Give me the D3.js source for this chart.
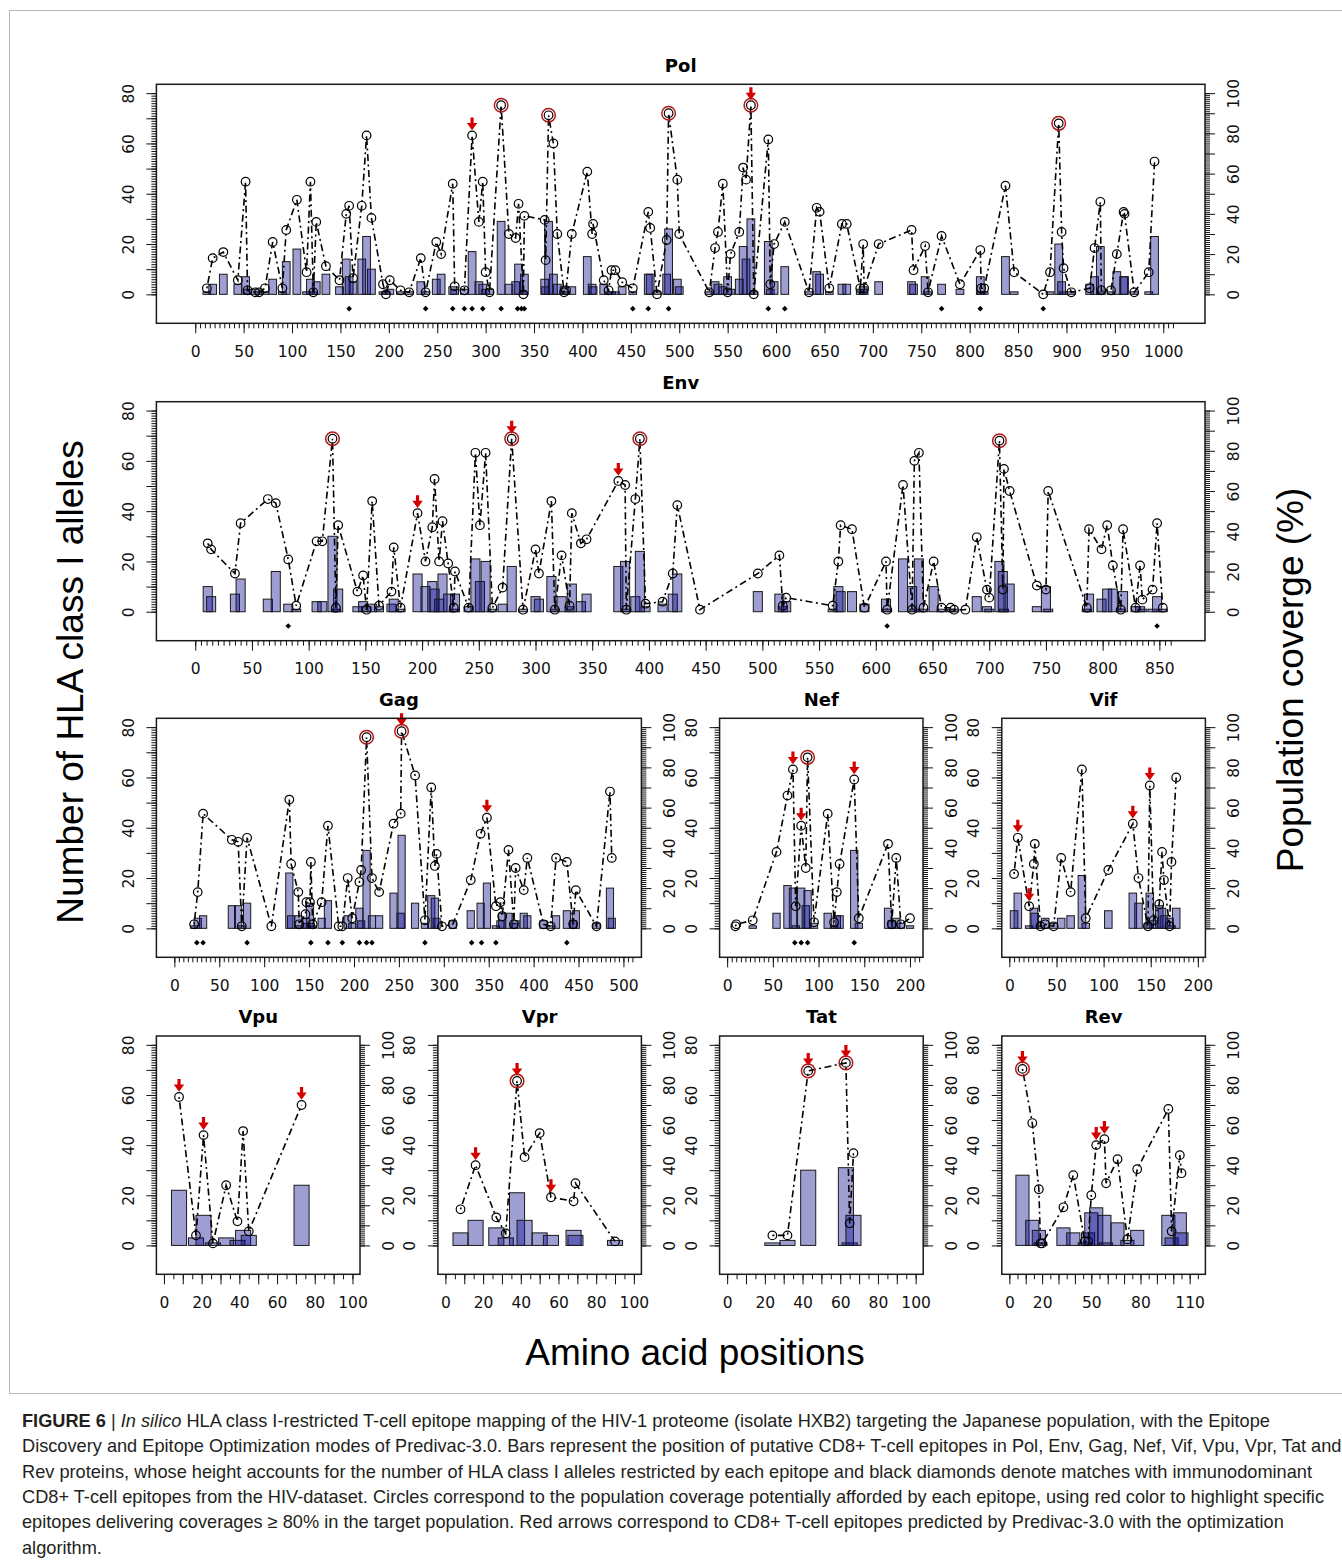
<!DOCTYPE html>
<html lang="en">
<head>
<meta charset="utf-8">
<title>HIV-1 epitope mapping</title>
<style>
  body { margin: 0; background: #fff; }
  svg { display: block; }
</style>
</head>
<body>
<svg width="1342" height="1562"></svg>
<script src="https://d3js.org/d3.v7.min.js"></script>
<script>
// ---- data: epitope centre position, number of HLA alleles, population coverage (%) ----
var polPos = [12,18,29,44,52,54,62,66,72,80, 90,94,105,115,119,122,125,135,149,156,
  159,163,172,177,182,194,197,201,212,221, 233,238,249,254,266,268,278,286,293,297,
  300,304,316,324,331,334,339,340,361,362, 365,370,374,381,383,389,405,410,411,422,
  427,430,434,441,452,468,470,477,487,489, 498,500,531,537,540,545,550,553,562,566,
  569,574,577,592,594,598,609,634,642,645, 655,668,673,687,690,691,706,740,742,754,
  757,771,790,811,812,815,837,846,876,883, 892,895,897,905,924,929,935,936,946,952,
  959,960,970,985,991];
var polAlleles = [1,4,8,4,7,2,2,1,1,6, 1,13,18,1,6,1,5,8,3,14,
  7,5,14,23,10,1,1,2,1,1, 5,1,6,8,3,2,2,17,5,4,
  2,2,29,4,5,12,1,8,6,3, 29,8,4,3,1,3,15,4,3,4,
  1,1,1,3,1,8,8,1,8,26, 6,3,1,5,4,3,7,2,6,19,
  14,30,1,21,2,5,11,1,9,8, 1,4,4,2,3,2,5,5,4,7,
  1,4,2,7,1,1,15,1,0,1, 20,5,1,1,4,7,19,1,1,9,
  7,7,1,1,23];
var polCoverage = [3,18,21,7,56,2,1,1,3,26, 3,32,47,11,56,1,36,14,7,40,
  44,8,44,79,38,5,0,7,2,1, 18,1,26,20,55,4,2,79,36,56,
  11,1,94,30,28,45,0,39,37,17, 89,75,30,1,2,30,61,30,35,7,
  2,12,12,6,3,41,33,0,27,90, 57,30,1,23,31,55,1,20,31,63,
  57,94,0,77,5,25,36,1,43,41, 3,35,35,3,25,3,25,32,12,24,
  1,29,5,22,3,3,54,11,0,11, 85,31,13,1,3,23,46,2,2,20,
  41,40,1,11,66];
var polDiamonds = [159,238,266,278,286,297,316,333,337,340,452,468,489,592,609,771,811,876];
var polArrows = [286,574];

var envPos = [11,14,35,40,64,71,82,89,107,112, 121,124,126,143,148,151,156,162,173,175,
  181,196,203,209,211,215,218,223,228,229, 241,247,251,256,262,271,279,289,300,303,
  314,317,323,330,332,340,345,373,379,380, 388,392,397,412,421,425,445,496,515,518,
  521,562,567,569,579,590,609,610,624,632, 634,638,642,651,658,666,669,679,689,698,
  700,709,712,713,718,742,750,752,786,788, 799,804,809,816,818,829,833,835,844,848,
  853];
var envAlleles = [10,6,7,13,5,16,3,1,4,4, 30,1,9,2,4,2,3,2,3,5,
  1,15,10,12,9,5,15,7,1,7, 2,21,12,20,1,3,18,1,6,5,
  14,1,6,2,11,4,7,18,20,1, 6,24,2,3,7,15,0,8,7,2,
  4,1,10,8,8,3,5,1,21,10, 1,21,1,10,1,1,1,0,6,2,
  1,20,16,1,11,2,10,1,1,7, 5,9,9,1,8,2,2,1,1,6,
  1];
var envCoverage = [34,31,19,44,56,54,26,3,35,35, 86,2,43,10,18,1,55,3,10,32,
  2,49,25,42,66,25,45,24,2,20, 2,79,43,79,2,12,86,1,31,19,
  55,1,28,3,49,34,36,65,63,1, 56,86,4,5,19,53,1,19,28,3,
  7,3,25,43,41,2,25,1,63,1, 75,79,2,25,2,2,1,1,37,11,
  7,85,11,71,60,13,11,60,2,41, 31,43,23,1,41,2,23,6,11,44,
  2];
var envDiamonds = [82,610,848];
var envArrows = [196,279,373];

var gagPos = [22,26,32,64,71,75,81,108,128,130, 138,139,146,147,151,152,154,164,171,183,
  187,193,198,206,208,214,220,228,244,252, 253,268,279,286,290,292,298,310,330,341,
  348,358,363,365,372,378,380,389,393,411, 419,425,437,444,447,470,485,487];
var gagAlleles = [1,4,5,9,9,1,10,0,22,5, 5,1,2,4,10,2,1,4,11,0,
  0,5,2,8,3,31,5,5,14,6, 37,10,2,13,12,4,0,3,7,10,
  18,1,3,6,6,2,3,6,5,3, 1,5,7,3,7,2,16,4];
var gagCoverage = [2,18,57,44,43,1,45,1,64,32, 18,2,7,13,13,33,2,13,51,1,
  1,25,5,23,29,95,25,18,52,57, 98,76,4,70,31,37,1,2,24,47,
  55,11,13,6,39,2,30,19,35,2, 1,35,33,2,19,1,68,35];
var gagDiamonds = [25,32,81,152,171,187,206,214,220,279,331,342,358,437];
var gagArrows = [253,348];

var nefPos = [9,10,28,54,66,72,75,81,86,88, 95,110,117,120,123,139,144,176,180,185, 190,200];
var nefAlleles = [0,0,1,6,17,16,1,16,9,15, 2,6,1,5,5,31,2,8,3,4, 2,1];
var nefCoverage = [1,2,4,38,66,79,11,51,30,85, 3,57,3,18,32,74,5,42,2,35, 2,5];
var nefDiamonds = [74,81,88,139];
var nefArrows = [72,81,139];

var vifPos = [5,9,21,26,27,33,38,47,55,65, 77,81,105,131,137,147,149,153,159,162, 164,170,172,177];
var vifAlleles = [7,14,1,8,6,1,4,2,4,5, 21,2,7,14,10,2,14,3,9,8, 5,4,1,8];
var vifCoverage = [27,45,11,32,42,1,2,1,35,18, 79,5,29,52,25,1,71,4,12,38, 24,1,33,75];
var vifDiamonds = [];
var vifArrows = [9,21,131,149];

var vpuPos = [8,17,21,26,33,39,42,45,73];
var vpuAlleles = [22,3,12,1,3,2,6,4,24];
var vpuCoverage = [74,5,55,1,30,12,57,7,70];
var vpuDiamonds = [];
var vpuArrows = [8,21,73];

var vprPos = [8,16,27,32,38,42,50,56,68,69,90];
var vprAlleles = [5,10,7,3,21,10,5,4,6,4,2];
var vprCoverage = [18,40,14,6,82,44,56,24,22,31,2];
var vprDiamonds = [];
var vprArrows = [16,38,56];

var tatPos = [24,32,43,63,65,67];
var tatAlleles = [1,2,30,31,1,12];
var tatCoverage = [5,5,87,91,11,46];
var tatDiamonds = [];
var tatArrows = [43,63];

var revPos = [8,14,18,19,20,33,39,46,48,50, 53,58,59,66,72,78,97,99,104,105];
var revAlleles = [28,10,6,1,0,7,5,1,5,13, 15,12,1,9,2,6,12,3,13,5];
var revCoverage = [88,61,28,1,1,19,35,2,2,25, 50,53,31,43,3,38,68,7,45,36];
var revDiamonds = [];
var revArrows = [8,53,58];

var allelesTicks = [0, 20, 40, 60, 80];
var coverageTicks = [0, 20, 40, 60, 80, 100];
var revLabels = [0, 20, 50, 80, 110];

var caption = [
  "Discovery and Epitope Optimization modes of Predivac-3.0. Bars represent the position of putative CD8+ T-cell epitopes in Pol, Env, Gag, Nef, Vif, Vpu, Vpr, Tat and",
  "Rev proteins, whose height accounts for the number of HLA class I alleles restricted by each epitope and black diamonds denote matches with immunodominant",
  "CD8+ T-cell epitopes from the HIV-dataset. Circles correspond to the population coverage potentially afforded by each epitope, using red color to highlight specific",
  "epitopes delivering coverages \u2265 80% in the target population. Red arrows correspond to CD8+ T-cell epitopes predicted by Predivac-3.0 with the optimization",
  "algorithm."
];

// ---- panels: box = [left, top, right, bottom] in px ----
var panels = [
  {title: "Pol", pos: polPos, alleles: polAlleles, cov: polCoverage, dia: polDiamonds, arr: polArrows,
    xMax: 1003, axisMax: 1010, labels: d3.range(0, 1001, 50), longStep: 50, box: [156.4, 84.3, 1205, 323.3]},
  {title: "Env", pos: envPos, alleles: envAlleles, cov: envCoverage, dia: envDiamonds, arr: envArrows,
    xMax: 856, axisMax: 860, labels: d3.range(0, 851, 50), longStep: 50, box: [156.4, 401.7, 1205, 640.7]},
  {title: "Gag", pos: gagPos, alleles: gagAlleles, cov: gagCoverage, dia: gagDiamonds, arr: gagArrows,
    xMax: 500, axisMax: 510, labels: d3.range(0, 501, 50), longStep: 50, box: [156.4, 718.3, 641.4, 957.3]},
  {title: "Nef", pos: nefPos, alleles: nefAlleles, cov: nefCoverage, dia: nefDiamonds, arr: nefArrows,
    xMax: 206, axisMax: 210, labels: d3.range(0, 201, 50), longStep: 50, box: [719.6, 718.3, 923, 957.3]},
  {title: "Vif", pos: vifPos, alleles: vifAlleles, cov: vifCoverage, dia: vifDiamonds, arr: vifArrows,
    xMax: 200, axisMax: 205, labels: d3.range(0, 201, 50), longStep: 50, box: [1001.8, 718.3, 1205.4, 957.3]},
  {title: "Vpu", pos: vpuPos, alleles: vpuAlleles, cov: vpuCoverage, dia: vpuDiamonds, arr: vpuArrows,
    xMax: 100, axisMax: 100, labels: d3.range(0, 101, 20), longStep: 10, box: [156.4, 1036, 360, 1274.3]},
  {title: "Vpr", pos: vprPos, alleles: vprAlleles, cov: vprCoverage, dia: vprDiamonds, arr: vprArrows,
    xMax: 100, axisMax: 100, labels: d3.range(0, 101, 20), longStep: 10, box: [437.9, 1036, 641.4, 1274.3]},
  {title: "Tat", pos: tatPos, alleles: tatAlleles, cov: tatCoverage, dia: tatDiamonds, arr: tatArrows,
    xMax: 100, axisMax: 100, labels: d3.range(0, 101, 20), longStep: 10, box: [719.6, 1036, 923.2, 1274.3]},
  {title: "Rev", pos: revPos, alleles: revAlleles, cov: revCoverage, dia: revDiamonds, arr: revArrows,
    xMax: 115, axisMax: 115, labels: revLabels, longStep: 10, box: [1001.8, 1036, 1205.4, 1274.3]}
];

var svg = d3.select("svg");
var tickFont = "'DejaVu Sans', sans-serif";

// light frame round the figure
svg.append("rect")
    .attr("x", 9.5).attr("y", 10.5)
    .attr("width", 1334).attr("height", 1383)
    .attr("fill", "none")
    .attr("stroke", "#b8b8b8");

function styleAxis(a) {
  a.selectAll(".domain").remove();
  a.selectAll("line").attr("stroke", "#111");
  a.selectAll("text")
      .attr("fill", "#111")
      .attr("font-family", tickFont)
      .attr("font-size", 15.5);
}

panels.forEach(function(p) {
  var b = p.box;
  var x = d3.scaleLinear().domain([-0.04 * p.xMax, 1.04 * p.xMax]).range([b[0], b[2]]);
  var y = d3.scaleLinear().domain([-11.52, 83.52]).range([b[3], b[1]]);
  var yc = d3.scaleLinear().domain([-14.4, 104.4]).range([b[3], b[1]]);
  var g = svg.append("g");
  var idx = d3.range(p.pos.length);

  // bars (semi-transparent, overlaps get darker)
  g.selectAll("rect.bar")
    .data(idx.filter(function(i) { return p.alleles[i] > 0; }))
    .join("rect")
      .attr("class", "bar")
      .attr("x", function(i) { return x(p.pos[i] - 4); })
      .attr("width", function(i) { return x(p.pos[i] + 4) - x(p.pos[i] - 4); })
      .attr("y", function(i) { return y(p.alleles[i]); })
      .attr("height", function(i) { return y(0) - y(p.alleles[i]); })
      .attr("fill", "rgba(0,0,139,0.38)")
      .attr("stroke", "#1a1a1a")
      .attr("stroke-width", 1);

  // coverage line
  var line = d3.line()
      .x(function(i) { return x(p.pos[i]); })
      .y(function(i) { return yc(p.cov[i]); });

  g.append("path")
      .datum(idx)
      .attr("fill", "none")
      .attr("stroke", "#000")
      .attr("stroke-width", 1.6)
      .attr("stroke-dasharray", "2,3.5,7,3.5")
      .attr("d", line);

  g.selectAll("circle.pt")
    .data(idx)
    .join("circle")
      .attr("class", "pt")
      .attr("cx", function(i) { return x(p.pos[i]); })
      .attr("cy", function(i) { return yc(p.cov[i]); })
      .attr("r", 4.3)
      .attr("fill", "none")
      .attr("stroke", "#000")
      .attr("stroke-width", 1.2);

  g.selectAll("circle.hi")
    .data(idx.filter(function(i) { return p.cov[i] >= 80; }))
    .join("circle")
      .attr("class", "hi")
      .attr("cx", function(i) { return x(p.pos[i]); })
      .attr("cy", function(i) { return yc(p.cov[i]); })
      .attr("r", 6.8)
      .attr("fill", "none")
      .attr("stroke", "#b01818")
      .attr("stroke-width", 1.5);

  // red arrows above optimised epitopes
  g.selectAll("path.arrow")
    .data(p.arr)
    .join("path")
      .attr("class", "arrow")
      .attr("fill", "#d40000")
      .attr("d", function(a) {
        var i = p.pos.indexOf(a);
        var cx = x(a), cy = yc(p.cov[i]);
        return "M" + (cx - 1.6) + "," + (cy - 18) + "L" + (cx + 1.6) + "," + (cy - 18) +
          "L" + (cx + 1.6) + "," + (cy - 12.5) + "L" + (cx + 5.2) + "," + (cy - 12.5) +
          "L" + cx + "," + (cy - 5.2) + "L" + (cx - 5.2) + "," + (cy - 12.5) +
          "L" + (cx - 1.6) + "," + (cy - 12.5) + "Z";
      });

  // immunodominant matches
  g.selectAll("path.dia")
    .data(p.dia)
    .join("path")
      .attr("class", "dia")
      .attr("fill", "#000")
      .attr("transform", function(d) { return "translate(" + x(d) + "," + y(-5.7) + ")"; })
      .attr("d", "M0,-2.8L2.8,0L0,2.8L-2.8,0Z");

  // box
  g.append("rect")
      .attr("x", b[0]).attr("y", b[1])
      .attr("width", b[2] - b[0]).attr("height", b[3] - b[1])
      .attr("fill", "none")
      .attr("stroke", "#1a1a1a")
      .attr("stroke-width", 1.5);

  // left axis (alleles)
  var la = g.append("g").attr("transform", "translate(" + b[0] + ",0)");
  la.append("g").call(d3.axisLeft(y).tickValues(d3.range(0, 81, 1)).tickSize(5).tickFormat(""));
  la.append("g").call(d3.axisLeft(y).tickValues(d3.range(0, 81, 10)).tickSize(10)
      .tickFormat(function(d) { return allelesTicks.indexOf(d) >= 0 ? d : ""; }));
  styleAxis(la);
  la.selectAll("text")
      .attr("x", 0).attr("dy", "0.36em")
      .attr("text-anchor", "middle")
      .attr("transform", "translate(-28,0) rotate(-90)");

  // right axis (population coverage)
  var ra = g.append("g").attr("transform", "translate(" + b[2] + ",0)");
  ra.append("g").call(d3.axisRight(yc).tickValues(d3.range(0, 101, 1)).tickSize(5).tickFormat(""));
  ra.append("g").call(d3.axisRight(yc).tickValues(d3.range(0, 101, 10)).tickSize(10)
      .tickFormat(function(d) { return coverageTicks.indexOf(d) >= 0 ? d : ""; }));
  styleAxis(ra);
  ra.selectAll("text")
      .attr("x", 0).attr("dy", "0.36em")
      .attr("text-anchor", "middle")
      .attr("transform", "translate(28,0) rotate(-90)");

  // bottom axis (positions)
  var ba = g.append("g").attr("transform", "translate(0," + b[3] + ")");
  ba.append("g").call(d3.axisBottom(x).tickValues(d3.range(0, p.axisMax + 0.1, 5)).tickSize(5).tickFormat(""));
  ba.append("g").call(d3.axisBottom(x).tickValues(d3.range(0, p.axisMax + 0.1, p.longStep)).tickSize(10)
      .tickFormat(function(d) { return p.labels.indexOf(d) >= 0 ? d : ""; }));
  styleAxis(ba);
  ba.selectAll("text").attr("y", 28).attr("dy", "0.36em");

  // title
  g.append("text")
      .attr("x", (b[0] + b[2]) / 2)
      .attr("y", b[1] - 19)
      .attr("dy", "0.36em")
      .attr("text-anchor", "middle")
      .attr("font-family", tickFont)
      .attr("font-weight", "bold")
      .attr("font-size", 18)
      .text(p.title);
});

// axis titles
var titleFont = "'Liberation Sans', Arial, sans-serif";
svg.append("text")
    .attr("transform", "translate(70,682) rotate(-90)")
    .attr("dy", "0.36em")
    .attr("text-anchor", "middle")
    .attr("font-family", titleFont)
    .attr("font-size", 37)
    .text("Number of HLA class I alleles");

svg.append("text")
    .attr("transform", "translate(1290,680) rotate(-90)")
    .attr("dy", "0.36em")
    .attr("text-anchor", "middle")
    .attr("font-family", titleFont)
    .attr("font-size", 37)
    .text("Population coverge (%)");

svg.append("text")
    .attr("x", 695).attr("y", 1352)
    .attr("dy", "0.36em")
    .attr("text-anchor", "middle")
    .attr("font-family", titleFont)
    .attr("font-size", 37)
    .text("Amino acid positions");

// caption
var cap = svg.append("g")
    .attr("font-family", titleFont)
    .attr("font-size", 18.2)
    .attr("fill", "#231f20");

var first = cap.append("text").attr("x", 22).attr("y", 1427);
first.append("tspan").attr("font-weight", "bold").text("FIGURE 6");
first.append("tspan").text(" | ");
first.append("tspan").attr("font-style", "italic").text("In silico");
first.append("tspan").text(" HLA class I-restricted T-cell epitope mapping of the HIV-1 proteome (isolate HXB2) targeting the Japanese population, with the Epitope");

cap.selectAll("text.line")
  .data(caption)
  .join("text")
    .attr("class", "line")
    .attr("x", 22)
    .attr("y", function(d, i) { return 1427 + 25.3 * (i + 1); })
    .text(function(d) { return d; });
</script>
</body>
</html>
